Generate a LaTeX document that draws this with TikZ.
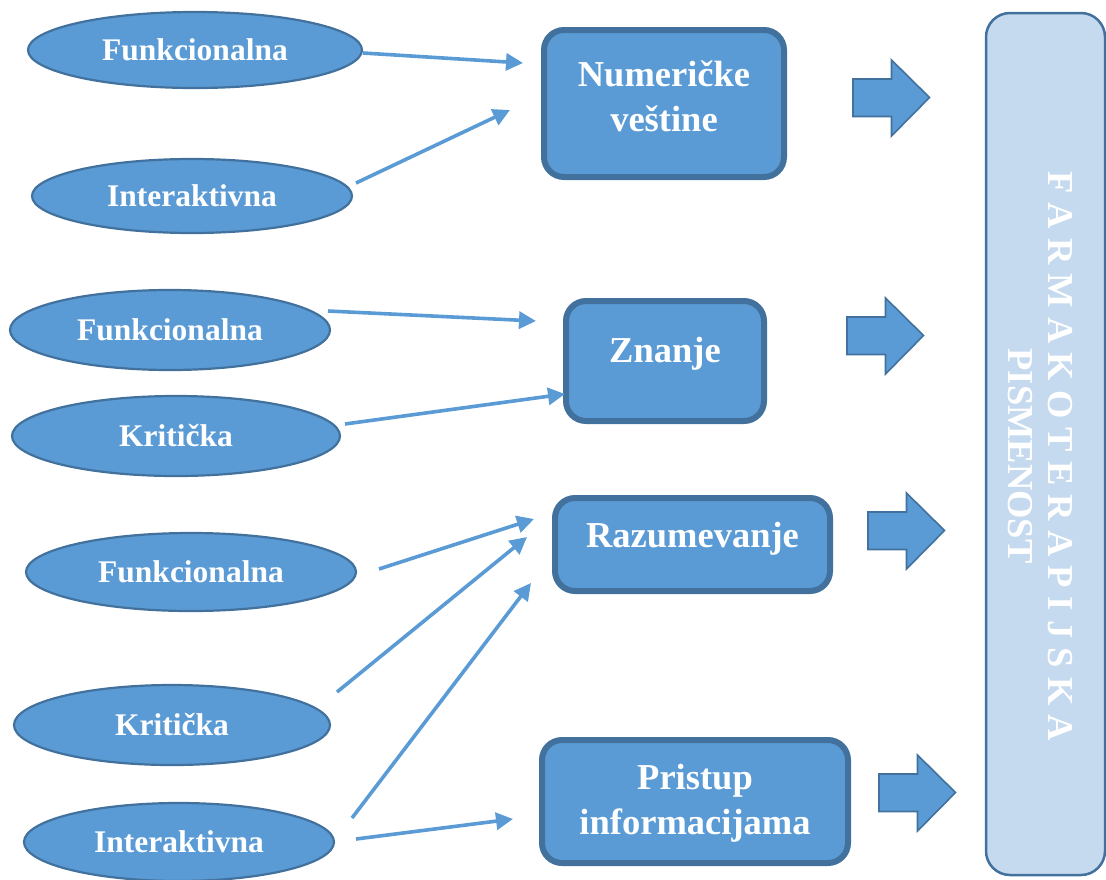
\documentclass[tikz,border=0pt]{standalone}
\usepackage{fontspec}
\setmainfont{Liberation Serif}
\usetikzlibrary{shapes.geometric,arrows.meta}
\definecolor{accent}{HTML}{5B9BD5}
\definecolor{accentdark}{HTML}{41719C}
\definecolor{accentlight}{HTML}{C6DAEF}
\tikzset{
  oval/.style={ellipse, draw=accentdark, line width=2.2pt, fill=accent,
    inner sep=0pt, text=white, font=\fontsize{31.5}{36}\selectfont\bfseries},
  skillbox/.style={rectangle, rounded corners=20pt, draw=accentdark,
    line width=6pt, fill=accent, inner sep=0pt},
  skilltext/.style={text=white, align=center,
    font=\fontsize{36.5}{45}\selectfont\bfseries},
  link/.style={draw=accent, line width=3.6pt,
    -{Triangle[length=17pt,width=17pt]}},
  blockarrow/.style={draw=accentdark, line width=1.6pt, fill=accent, line join=miter},
}
\begin{document}
\begin{tikzpicture}[x=1pt,y=-1pt]
\useasboundingbox (0,0) rectangle (1106,879);

% outcome panel on the right
\node[rectangle, rounded corners=24pt, draw=accentdark, line width=2.5pt,
  fill=accentlight, minimum width=119pt, minimum height=862pt, inner sep=0pt]
  (goal) at (1045.5,444) {};
\node[rotate=-90, text=white, align=center,
  font=\fontsize{36.5}{40}\selectfont\bfseries] (goaltext) at (1040,456)
  {F A R M A K O T E R A P I J S K A\\PISMENOST};

% literacy types
\node[oval, minimum width=334pt, minimum height=76pt] (e1) at (195,50) {Funkcionalna};
\node[oval, minimum width=320pt, minimum height=74pt] (e2) at (192,196) {Interaktivna};
\node[oval, minimum width=320pt, minimum height=80pt] (e3) at (170,330) {Funkcionalna};
\node[oval, minimum width=328pt, minimum height=80pt] (e4) at (176,436) {Kritička};
\node[oval, minimum width=330pt, minimum height=78pt] (e5) at (191,572) {Funkcionalna};
\node[oval, minimum width=316pt, minimum height=80pt] (e6) at (172,725) {Kritička};
\node[oval, minimum width=310pt, minimum height=78pt] (e7) at (179,842) {Interaktivna};

% competences
\node[skillbox, minimum width=240pt, minimum height=147pt] (b1) at (664,103.5) {};
\node[skilltext] (t1) at ([yshift=7pt]b1.center) {Numeričke\\veštine};
\node[skillbox, minimum width=198pt, minimum height=120pt] (b2) at (665,361) {};
\node[skilltext] (t2) at ([yshift=7pt]b2.center) {Znanje};
\node[skillbox, minimum width=275pt, minimum height=93pt] (b3) at (692.5,544.5) {};
\node[skilltext] (t3) at ([yshift=6pt]b3.center) {Razumevanje};
\node[skillbox, minimum width=306pt, minimum height=123pt] (b4) at (695,801.5) {};
\node[skilltext] (t4) at ([yshift=-2pt]b4.center) {Pristup\\informacijama};

% connector ends
\coordinate (e1o) at (363,53);   \coordinate (b1i1) at (523,63);
\coordinate (e2o) at (356,183);  \coordinate (b1i2) at (510,110);
\coordinate (e3o) at (328,311);  \coordinate (b2i1) at (536,321);
\coordinate (e4o) at (345,424);  \coordinate (b2i2) at (565,394);
\coordinate (e5o) at (379,569);  \coordinate (b3i1) at (534,519);
\coordinate (e6o) at (337,692);  \coordinate (b3i2) at (527,537);
\coordinate (e7o1) at (352,818); \coordinate (b3i3) at (531,583);
\coordinate (e7o2) at (356,839); \coordinate (b4i) at (513,819);

\draw[link] (e1o) -- (b1i1);
\draw[link] (e2o) -- (b1i2);
\draw[link] (e3o) -- (b2i1);
\draw[link] (e4o) -- (b2i2);
\draw[link] (e5o) -- (b3i1);
\draw[link] (e6o) -- (b3i2);
\draw[link] (e7o1) -- (b3i3);
\draw[link] (e7o2) -- (b4i);

% block arrows towards the outcome panel
\foreach \x/\y in {853/97.5, 847/335.5, 868/530.5, 879/792.5}{
  \draw[blockarrow] (\x,\y-18.5) -- ++(38.5,0) -- ++(0,-19) -- ++(38,37.5)
    -- ++(-38,38.5) -- ++(0,-19.5) -- ++(-38.5,0) -- cycle;
}
\end{tikzpicture}
\end{document}
